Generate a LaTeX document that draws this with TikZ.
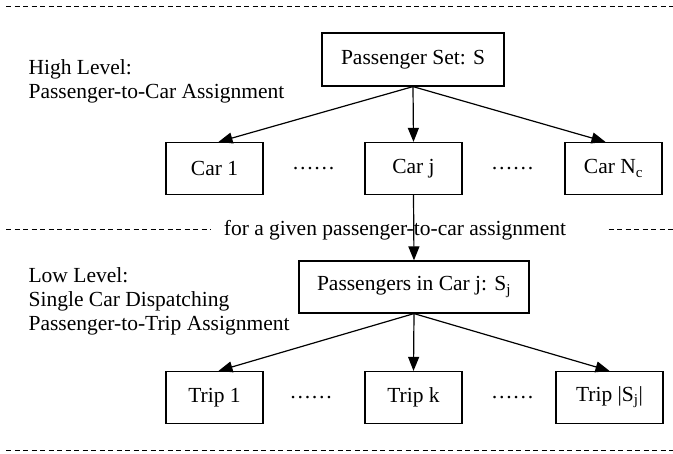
\documentclass[tikz,border=0pt]{standalone}
\usepackage{fontspec}
\setmainfont{Liberation Serif}
\usetikzlibrary{arrows.meta}
\tikzset{
  box/.style={draw, line width=1.2pt, minimum height=52pt, inner sep=0pt},
  sep/.style={dashed, dash pattern=on 5pt off 3.5pt, line width=1pt},
  lbl/.style={align=left, anchor=west, inner sep=0pt}
}
\begin{document}
\begin{tikzpicture}[x=1pt, y=-1pt, >={Triangle[length=14pt,width=11pt]}, line width=1.2pt,
    every node/.style={font=\fontsize{21.5}{24}\selectfont}]
  \useasboundingbox (0,0) rectangle (673,454);

  % 1. separators
  \draw[sep] (6,7) -- (673,7);
  \draw[sep] (6,451) -- (673,451);
  \node[inner sep=0pt] (given) at (395,230) {for a given passenger-to-car assignment};
  \draw[sep] (6,230) -- ([xshift=-13pt]given.west);
  \draw[sep] ([xshift=42pt]given.east) -- (673,230);

  % 2. level labels
  \node[lbl] (high) at (28,81) {High Level:\\Passenger-to-Car Assignment};
  \node[lbl] (low) at (28,301) {Low Level:\\Single Car Dispatching\\Passenger-to-Trip Assignment};

  % 3. high level tree
  \node[box, minimum width=182pt, minimum height=53pt] (set) at (413,59.5) {Passenger Set: S};
  \node[box, minimum width=97pt] (car1) at (214.5,168.5) {Car 1};
  \node (dots1) at (313.5,168.5) {\dots\dots};
  \node[box, minimum width=97pt] (carj) at (413.5,168.5) {Car j};
  \node (dots2) at (512.5,168.5) {\dots\dots};
  \node[box, minimum width=97pt] (carn) at (613.5,168.5) {Car N\textsubscript{c}};
  \draw[->] (set.south) -- ([xshift=4pt]car1.north);
  \draw[->] (set.south) -- (carj.north);
  \draw[->] (set.south) -- ([xshift=-8pt]carn.north);

  % 4. low level tree
  \node[box, minimum width=230pt] (sub) at (414,287) {Passengers in Car j: S\textsubscript{j}};
  \draw[->] (carj.south) -- (sub.north);
  \node[box, minimum width=97pt] (trip1) at (214.5,397.5) {Trip 1};
  \node (dots3) at (311,397.5) {\dots\dots};
  \node[box, minimum width=97pt] (tripk) at (413.5,397.5) {Trip k};
  \node (dots4) at (512.5,397.5) {\dots\dots};
  \node[box, minimum width=107pt] (tripn) at (609.5,397.5) {Trip |S\textsubscript{j}|};
  \draw[->] (sub.south) -- ([xshift=4pt]trip1.north);
  \draw[->] (sub.south) -- (tripk.north);
  \draw[->] (sub.south) -- (tripn.north);
\end{tikzpicture}
\end{document}
